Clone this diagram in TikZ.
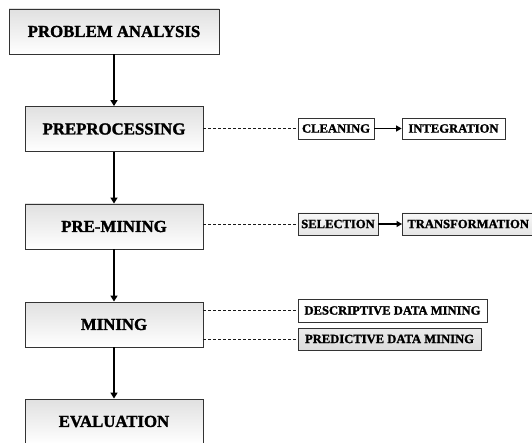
\documentclass[tikz,border=0pt]{standalone}
\usepackage{fontspec}
\setmainfont{Liberation Serif}[BoldFeatures={FakeBold=1.6}]
\usetikzlibrary{arrows.meta,shadows}
\begin{document}
\begin{tikzpicture}[x=1pt,y=-1pt,
  mainbox/.style={draw=black!80, line width=0.9pt, top color=black!12, bottom color=white,
    minimum width=178pt, minimum height=45pt, inner sep=0pt,
    font=\fontsize{16.8}{18}\selectfont\bfseries,
    drop shadow={shadow xshift=0.8pt, shadow yshift=-0.8pt, opacity=0.35}},
  subbox/.style={draw=black!80, line width=0.8pt, fill=white, inner sep=0pt,
    minimum height=21pt, font=\fontsize{12.6}{14}\selectfont\bfseries},
  greybox/.style={subbox, top color=black!8, bottom color=black!14},
  flow/.style={line width=1.5pt, -{Triangle[length=6pt,width=7pt]}},
  sflow/.style={line width=1.3pt, -{Triangle[length=5.5pt,width=6pt]}},
  link/.style={line width=0.7pt, dash pattern=on 3pt off 2pt, black!90}]
\useasboundingbox (0,0) rectangle (532,443);
\clip (0,0) rectangle (532,443);

\node[mainbox, minimum width=210pt] (pa) at (114,31.5) {\raisebox{-1.5pt}{PROBLEM ANALYSIS}};
\node[mainbox] (pp) at (114,129) {PREPROCESSING};
\node[mainbox] (pm) at (114,226.5) {PRE-MINING};
\node[mainbox] (mi) at (114,324.5) {MINING};
\node[mainbox] (ev) at (114,421.5) {EVALUATION};

\draw[flow] (pa.south -| pp.north) -- (pp.north);
\draw[flow] (pp) -- (pm);
\draw[flow] (pm) -- (mi);
\draw[flow] (mi) -- (ev);

\node[subbox, minimum width=76pt] (cl) at (336,128.5) {CLEANING};
\node[subbox, minimum width=103pt] (in) at (453.5,128.5) {INTEGRATION};
\node[greybox, minimum width=80pt, minimum height=22pt, top color=black!3, bottom color=black!10] (se) at (338,224) {SELECTION};
\node[greybox, minimum width=150pt, minimum height=22pt, anchor=west, align=left, text width=144pt,
      top color=black!3, bottom color=black!10] (tr) at (402,224) {\hspace*{2pt}TRANSFORMATION};
\node[subbox, minimum width=189pt, minimum height=23pt] (de) at (392.5,310.5) {DESCRIPTIVE DATA MINING};
\node[greybox, minimum width=183pt, minimum height=22pt] (pr) at (389.5,339) {PREDICTIVE DATA MINING};

\draw[sflow] (cl) -- (in);
\draw[sflow] (se) -- (tr);

\draw[link] (cl.west -| pp.east) -- (cl.west);
\draw[link] (se.west -| pm.east) -- (se.west);
\draw[link] (de.west -| mi.east) -- (de.west);
\draw[link] (pr.west -| mi.east) -- (pr.west);
\end{tikzpicture}
\end{document}
